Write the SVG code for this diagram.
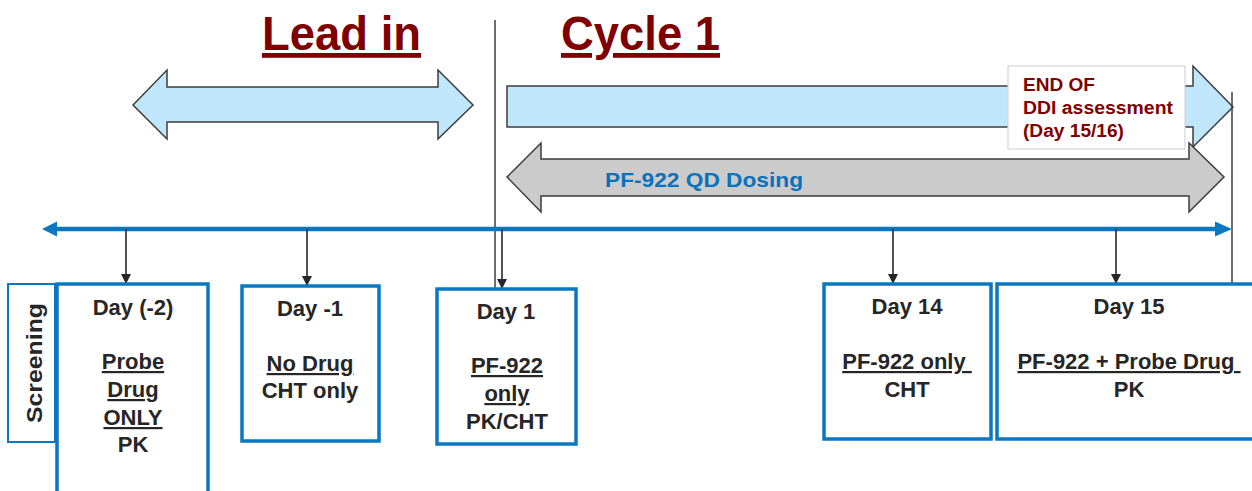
<svg xmlns="http://www.w3.org/2000/svg" width="1252" height="491" viewBox="0 0 1252 491">
  <style>
    .title { font-family: "Liberation Sans", Arial, sans-serif; font-weight: bold; font-size: 48px; fill: #7f0000; text-decoration: underline; }
    .band { stroke: #3c3c3c; stroke-width: 1.5; stroke-linejoin: miter; }
    .blue { fill: #c0e6fb; }
    .grey { fill: #cbcbcb; }
    .day { fill: #ffffff; stroke: #0a77c1; stroke-width: 3.5; }
    .lbl { font-family: "Liberation Sans", Arial, sans-serif; font-weight: bold; font-size: 22px; fill: #262626; text-anchor: middle; }
    .ul { text-decoration: underline; }
    .note { font-family: "Liberation Sans", Arial, sans-serif; font-weight: bold; font-size: 18px; fill: #7f0000; }
    .tick { stroke: #262626; stroke-width: 1.6; fill: none; }
  </style>
  <defs>
    <marker id="tip" viewBox="0 0 10 10" refX="10" refY="5" markerWidth="10" markerHeight="10" markerUnits="userSpaceOnUse" orient="auto">
      <path d="M0,0 L10,5 L0,10 Z" fill="#262626"/>
    </marker>
  </defs>

  <rect width="1252" height="491" fill="#ffffff"/>

  <!-- phase headings -->
  <g id="headings">
    <text class="title" x="262" y="50" textLength="159" lengthAdjust="spacingAndGlyphs">Lead in</text>
    <text class="title" x="561" y="50" textLength="159" lengthAdjust="spacingAndGlyphs">Cycle 1</text>
  </g>

  <!-- lead-in period -->
  <g id="lead-in-band">
    <path class="band blue" d="M133,105 L167,70 L167,87 L438,87 L438,70 L473,105 L438,139 L438,122 L167,122 L167,139 Z"/>
  </g>

  <!-- cycle 1 period -->
  <g id="cycle-band">
    <path class="band blue" d="M507,86 L1193,86 L1193,66 L1233,107 L1193,147 L1193,127 L507,127 Z"/>
  </g>

  <!-- dosing period -->
  <g id="dosing-band">
    <path class="band grey" d="M507,177 L541,143 L541,159 L1189,159 L1189,143 L1224,177 L1189,212 L1189,196 L541,196 L541,212 Z"/>
    <text x="605" y="187" textLength="198" lengthAdjust="spacingAndGlyphs" font-family="Liberation Sans, Arial, sans-serif" font-weight="bold" font-size="21" fill="#0a72bd">PF-922 QD Dosing</text>
  </g>

  <!-- end of assessment note -->
  <g id="end-note">
    <rect x="1008" y="66" width="177" height="83" fill="#ffffff" stroke="#d4d4d4" stroke-width="1.2"/>
    <text class="note" x="1023" y="91" textLength="72" lengthAdjust="spacingAndGlyphs">END OF</text>
    <text class="note" x="1023" y="114" textLength="150" lengthAdjust="spacingAndGlyphs">DDI assessment</text>
    <text class="note" x="1023" y="137" textLength="101" lengthAdjust="spacingAndGlyphs">(Day 15/16)</text>
  </g>

  <!-- connectors: phase dividers, timeline, day markers -->
  <g id="connectors">
    <line x1="495" y1="20" x2="495" y2="288" stroke="#3c3c3c" stroke-width="1.5"/>
    <line x1="1232" y1="92" x2="1232" y2="285" stroke="#3c3c3c" stroke-width="1.5"/>
    <line x1="56" y1="229" x2="1216" y2="229" stroke="#0a77c1" stroke-width="4.5"/>
    <path d="M42,229 L57,221.5 L57,236.5 Z" fill="#0a77c1"/>
    <path d="M1232,229 L1215,221.5 L1215,236.5 Z" fill="#0a77c1"/>
    <line class="tick" x1="126" y1="229" x2="126" y2="284" marker-end="url(#tip)"/>
    <line class="tick" x1="307" y1="229" x2="307" y2="286" marker-end="url(#tip)"/>
    <line class="tick" x1="502" y1="229" x2="502" y2="289" marker-end="url(#tip)"/>
    <line class="tick" x1="893" y1="229" x2="893" y2="284" marker-end="url(#tip)"/>
    <line class="tick" x1="1116" y1="229" x2="1116" y2="284" marker-end="url(#tip)"/>
  </g>

  <g id="screening">
    <rect x="8" y="284" width="47" height="158" fill="#ffffff" stroke="#0a77c1" stroke-width="2"/>
    <text class="lbl" transform="translate(41.5,363) rotate(-90)" font-size="25" textLength="120" lengthAdjust="spacingAndGlyphs">Screening</text>
  </g>

  <g id="day-minus2">
    <rect class="day" x="57" y="284" width="151" height="220"/>
    <text class="lbl" x="133" y="315">Day (-2)</text>
    <text class="lbl ul" x="133" y="369">Probe</text>
    <text class="lbl ul" x="133" y="397">Drug</text>
    <text class="lbl ul" x="133" y="425">ONLY</text>
    <text class="lbl" x="133" y="452">PK</text>
  </g>

  <g id="day-minus1">
    <rect class="day" x="242" y="286" width="137" height="155"/>
    <text class="lbl" x="310" y="316">Day -1</text>
    <text class="lbl ul" x="310" y="371">No Drug</text>
    <text class="lbl" x="310" y="398">CHT only</text>
  </g>

  <g id="day-1">
    <rect class="day" x="437" y="289" width="139" height="155"/>
    <text class="lbl" x="506" y="319">Day 1</text>
    <text class="lbl ul" x="507" y="373">PF-922</text>
    <text class="lbl ul" x="507" y="401">only</text>
    <text class="lbl" x="507" y="429">PK/CHT</text>
  </g>

  <g id="day-14">
    <rect class="day" x="824" y="284" width="167" height="155"/>
    <text class="lbl" x="907" y="314">Day 14</text>
    <text class="lbl ul" x="907" y="369">PF-922 only&#160;</text>
    <text class="lbl" x="907" y="397">CHT</text>
  </g>

  <g id="day-15">
    <rect class="day" x="997" y="284" width="270" height="155"/>
    <text class="lbl" x="1129" y="314">Day 15</text>
    <text class="lbl ul" x="1129" y="369">PF-922 + Probe Drug&#160;</text>
    <text class="lbl" x="1129" y="397">PK</text>
  </g>
</svg>
